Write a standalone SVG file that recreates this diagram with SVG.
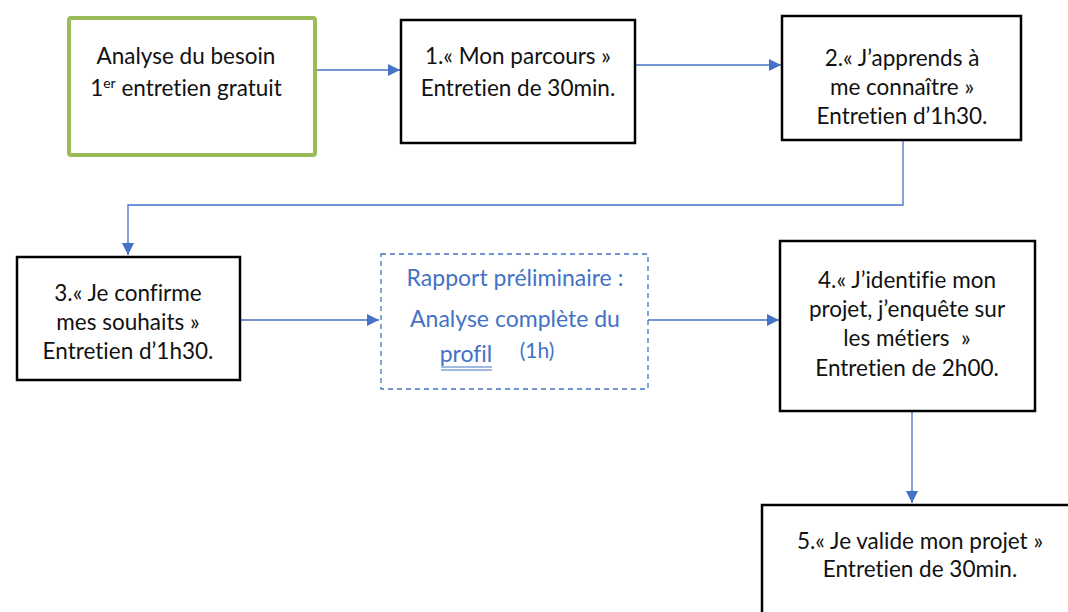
<svg xmlns="http://www.w3.org/2000/svg" width="1068" height="612" viewBox="0 0 1068 612">
<defs>
<marker id="ah" viewBox="0 0 10 10" refX="10" refY="5" markerWidth="12" markerHeight="12" markerUnits="userSpaceOnUse" orient="auto">
<path d="M0,0 L10,5 L0,10 z" fill="#4472C4"/>
</marker>
<style>
.box{fill:#fff;stroke:#000;stroke-width:2.5}
.t{font-family:Lato,"Open Sans","Liberation Sans",sans-serif;font-size:22.5px;fill:#111;text-anchor:middle;font-variant-ligatures:none}
.b{fill:#4472C4;font-size:23px}
.s{font-size:21px}
.c{fill:none;stroke:#4472C4;stroke-width:1.3;marker-end:url(#ah)}
</style>
</defs>
<rect width="1068" height="612" fill="#fff"/>
<g id="connectors">
<path class="c" d="M315,70 H400"/>
<path class="c" d="M635,65 H781"/>
<path class="c" d="M903,140 V205 H128 V255"/>
<path class="c" d="M240,320 H379"/>
<path class="c" d="M648,320 H779"/>
<path class="c" d="M912,411 V503"/>
</g>
<g id="n0">
<rect x="69" y="18" width="246" height="137" rx="2" fill="#fff" stroke="#9BBB59" stroke-width="4"/>
<text class="t" x="186" y="64">Analyse du besoin</text>
<text class="t" x="186" y="96">1<tspan font-size="14" dy="-8">er</tspan><tspan dy="8"> entretien gratuit</tspan></text>
</g>
<g id="n1">
<rect class="box" x="401" y="20" width="234" height="123"/>
<text class="t" x="518" y="64">1.« Mon parcours »</text>
<text class="t" x="518" y="96">Entretien de 30min.</text>
</g>
<g id="n2">
<rect class="box" x="782" y="16" width="239" height="124"/>
<text class="t" x="902" y="66">2.« J’apprends à</text>
<text class="t" x="902" y="95">me connaître »</text>
<text class="t" x="902" y="124">Entretien d’1h30.</text>
</g>
<g id="n3">
<rect class="box" x="17" y="257" width="223" height="123"/>
<text class="t" x="128" y="301">3.« Je confirme</text>
<text class="t" x="128" y="330">mes souhaits »</text>
<text class="t" x="128" y="359">Entretien d’1h30.</text>
</g>
<g id="report">
<rect x="381" y="254" width="267" height="135" fill="#fff" stroke="#4472C4" stroke-width="1.3" stroke-dasharray="5,4"/>
<text class="t b" x="515" y="286">Rapport préliminaire :</text>
<text class="t b" x="515" y="327">Analyse complète du</text>
<text class="t b" x="466" y="362">profil</text>
<line x1="441" y1="367" x2="492" y2="367" stroke="#4472C4" stroke-width="1"/>
<line x1="441" y1="370" x2="492" y2="370" stroke="#4472C4" stroke-width="1"/>
<text class="t b s" x="537" y="358">(1h)</text>
</g>
<g id="n4">
<rect class="box" x="780" y="241" width="255" height="170"/>
<text class="t" x="907" y="288">4.« J’identifie mon</text>
<text class="t" x="907" y="317">projet, j’enquête sur</text>
<text class="t" x="907" y="346">les métiers &#160;»</text>
<text class="t" x="907" y="376">Entretien de 2h00.</text>
</g>
<g id="n5">
<rect class="box" x="762" y="505" width="320" height="120"/>
<text class="t" x="920" y="549">5.« Je valide mon projet »</text>
<text class="t" x="920" y="577">Entretien de 30min.</text>
</g>
</svg>
